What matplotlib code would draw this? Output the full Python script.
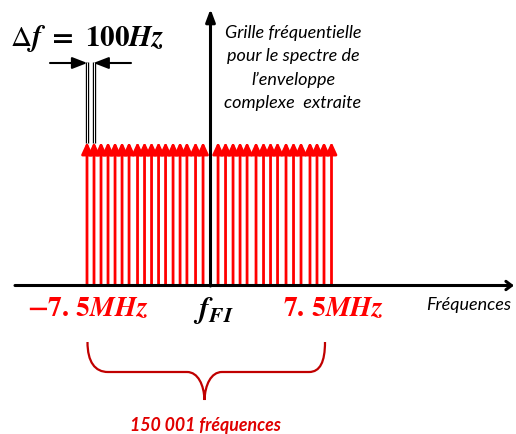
import numpy as np
import matplotlib.pyplot as plt
from matplotlib.path import Path
from matplotlib.patches import PathPatch

plt.rcParams['mathtext.fontset'] = 'stix'

# frequency grid (MHz offsets from f_FI) as drawn, all with the same amplitude
freqs = [-7.50, -7.07, -6.64, -6.21, -5.78, -5.35, -4.92, -4.40, -3.97,
         -3.54, -3.11, -2.68, -2.22, -1.79, -1.37, -0.84, -0.38,
         0.54, 1.00, 1.46, 1.89, 2.32, 2.87, 3.33, 3.76, 4.19,
         4.71, 5.17, 5.63, 6.18, 6.61, 7.04, 7.50]
amps = [1.0] * len(freqs)
tick_labels = [r'$\mathbf{-7.\,5}\boldsymbol{MHz}$',
               r'$\boldsymbol{f}_{\boldsymbol{FI}}$',
               r'$\mathbf{7.\,5}\boldsymbol{MHz}$']
n_freq_label = '150 001 fréquences'
df_label = r'$\Delta\boldsymbol{f}\ \mathbf{=\ 100}\boldsymbol{Hz}$'
grid_text = ['Grille fréquentielle', 'pour le spectre de',
             'l\u2019enveloppe', 'complexe  extraite']

W, H = 516, 434
fig = plt.figure(figsize=(W / 100, H / 100), dpi=100)

# main axes : x in MHz, y in amplitude
ax = fig.add_axes([0, 0, 1, 1])
x0, sx = 209.25, 16.3     # pixel of f_FI, pixels per MHz
y0, sy = 285.5, 143.5     # pixel of baseline, pixels per amplitude unit
ax.set_xlim((0 - x0) / sx, (W - x0) / sx)
ax.set_ylim(-(H - y0) / sy, y0 / sy)
ax.axis('off')

for f, a in zip(freqs, amps):
    ax.annotate('', xy=(f, a), xytext=(f, 0),
                arrowprops=dict(arrowstyle='-|>,head_length=0.7,head_width=0.32',
                                color='red', lw=2, shrinkA=0, shrinkB=0))

# decoration axes in pixel coordinates
deco = fig.add_axes([0, 0, 1, 1], facecolor='none')
deco.set_xlim(0, W)
deco.set_ylim(H, 0)
deco.axis('off')

# axes arrows
deco.annotate('', xy=(514, 285.5), xytext=(15, 285.5),
              arrowprops=dict(arrowstyle='->,head_length=0.4,head_width=0.3',
                              color='black', lw=2.2, shrinkA=0, shrinkB=0))
deco.annotate('', xy=(210.5, 9), xytext=(210.5, 286),
              arrowprops=dict(arrowstyle='-|>,head_length=0.75,head_width=0.28',
                              color='black', lw=2.2, shrinkA=0, shrinkB=0))

# delta f marker
for xl in (87.3, 93.5):
    deco.plot([xl, xl], [62, 143], color='black', lw=2.4, solid_capstyle='butt')
    deco.plot([xl, xl], [62, 143], color='white', lw=0.7, solid_capstyle='butt')
deco.annotate('', xy=(87.3, 63), xytext=(50, 63),
              arrowprops=dict(arrowstyle='-|>,head_length=0.9,head_width=0.35',
                              color='black', lw=1.5, shrinkA=0, shrinkB=0))
deco.annotate('', xy=(93.5, 63), xytext=(131, 63),
              arrowprops=dict(arrowstyle='-|>,head_length=0.9,head_width=0.35',
                              color='black', lw=1.5, shrinkA=0, shrinkB=0))
deco.text(10, 39, df_label, fontsize=21, ha='left', va='center', color='black')

# grid description
for i, line in enumerate(grid_text):
    deco.text(293, 33 + i * 23.3, line, fontsize=13, style='italic',
              family='Lato', ha='center', va='center', color='black')

# frequency labels
deco.text(88, 308, tick_labels[0], fontsize=20, ha='center', va='center', color='red')
deco.text(213, 311, tick_labels[1], fontsize=22, ha='center', va='center', color='black')
deco.text(333, 308, tick_labels[2], fontsize=20, ha='center', va='center', color='red')
deco.text(469, 305, 'Fréquences', fontsize=13, style='italic', family='Lato',
          ha='center', va='center', color='black')

# brace
verts = [(87.5, 342), (87.5, 362), (95, 372), (108, 372),
         (187, 372),
         (198, 372), (204, 385), (204.5, 400),
         (205, 385), (211, 372), (222, 372),
         (309, 372),
         (320, 372), (325, 362), (325, 342)]
codes = [Path.MOVETO, Path.CURVE4, Path.CURVE4, Path.CURVE4,
         Path.LINETO,
         Path.CURVE4, Path.CURVE4, Path.CURVE4,
         Path.CURVE4, Path.CURVE4, Path.CURVE4,
         Path.LINETO,
         Path.CURVE4, Path.CURVE4, Path.CURVE4]
deco.add_patch(PathPatch(Path(verts, codes), facecolor='none',
                         edgecolor='#c00000', lw=1.6))
deco.text(206, 425, n_freq_label, fontsize=12.8, style='italic', weight='bold',
          family='Lato', ha='center', va='center', color='#e00000')

fig.savefig('out.png', dpi=100)
